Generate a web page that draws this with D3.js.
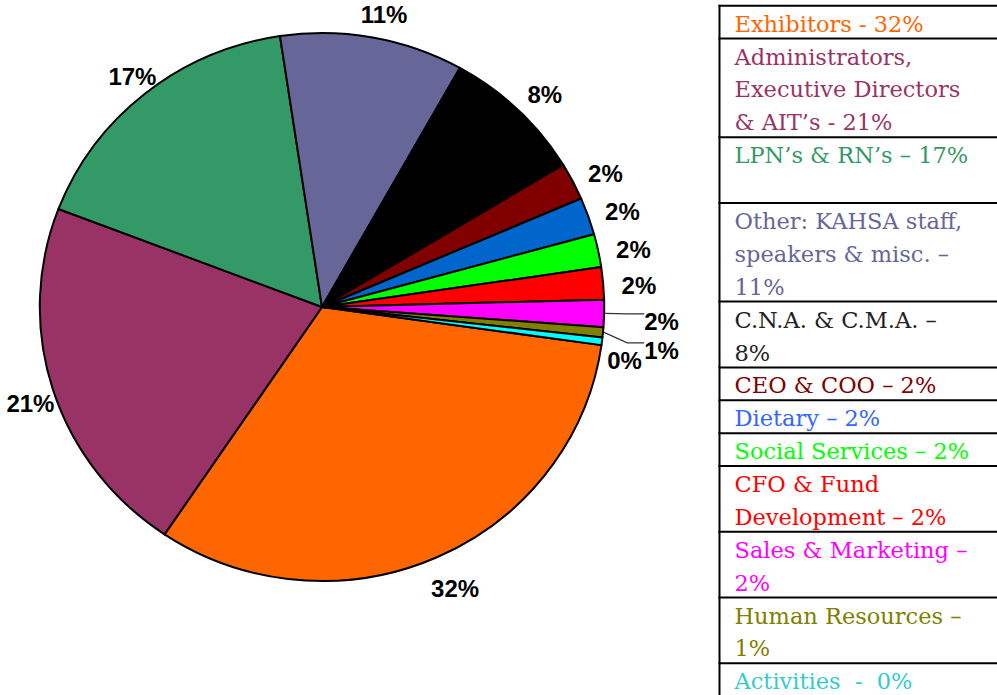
<!DOCTYPE html>
<html>
<head>
<meta charset="utf-8">
<script src="https://cdn.jsdelivr.net/npm/d3@7"></script>
<style>
  body { margin: 0; background: #fff; }
</style>
</head>
<body>
<div id="chart"></div>
<script>
// categories, in the order the slices run clockwise (Exhibitors first)
const categories = [
    "Exhibitors", "Administrators, Executive Directors & AIT's", "LPN's & RN's",
    "Other: KAHSA staff, speakers & misc.", "C.N.A. & C.M.A.", "CEO & COO",
    "Dietary", "Social Services", "CFO & Fund Development", "Sales & Marketing",
    "Human Resources", "Activities"
];

// share of attendees, percent
const shares = [32.2, 21.4, 16.8, 10.5, 8.2, 2.2, 2.2, 1.95, 1.9, 1.6, 0.6, 0.45];

const sliceColors = [
    "#FF6600", "#993366", "#339966", "#666699", "#000000", "#800000",
    "#0066CC", "#00FF00", "#FF0000", "#FF00FF", "#808000", "#00FFFF"
];

const legendColors = [
    "#FF6600", "#993366", "#339966", "#666699", "#222222", "#800000",
    "#3366FF", "#00FF00", "#FF0000", "#FF00FF", "#808000", "#33CCCC"
];

// legend rows as they wrap in the table
const legendLines = [
    ["Exhibitors - 32%"],
    ["Administrators,", "Executive Directors", "& AIT\u2019s - 21%"],
    ["LPN\u2019s & RN\u2019s \u2013 17%", ""],
    ["Other: KAHSA staff,", "speakers & misc. \u2013", "11%"],
    ["C.N.A. & C.M.A. \u2013", "8%"],
    ["CEO & COO \u2013 2%"],
    ["Dietary \u2013 2%"],
    ["Social Services \u2013 2%"],
    ["CFO & Fund", "Development \u2013 2%"],
    ["Sales & Marketing \u2013", "2%"],
    ["Human Resources \u2013", "1%"],
    ["Activities  -  0%"]
];

const W = 997, H = 695;
const cx = 322, cy = 307, r = 274, sx = 1.03;   // pie is slightly wider than tall
const startDeg = 98;

const svg = d3.select("#chart").append("svg")
    .attr("width", W).attr("height", H)
    .style("display", "block");

const data = categories.map((c, i) => ({ name: c, v: shares[i], i: i }));

const pie = d3.pie()
    .sort(null)
    .value(d => d.v)
    .startAngle(startDeg * Math.PI / 180)
    .endAngle(startDeg * Math.PI / 180 + 2 * Math.PI);

const arcs = pie(data);
const arc = d3.arc().innerRadius(0).outerRadius(r);

// slices
svg.append("g")
    .attr("transform", `translate(${cx},${cy}) scale(${sx},1)`)
    .selectAll("path")
    .data(arcs)
    .enter()
    .append("path")
    .attr("d", arc)
    .attr("fill", d => sliceColors[d.data.i])
    .attr("stroke", "#000")
    .attr("stroke-width", 2)
    .attr("stroke-linejoin", "round")
    .attr("vector-effect", "non-scaling-stroke");

// percent labels
const R = 303;
const shiftX = 6, shiftY = 5;   // excel sets its labels a little down-right
const polar = (a, rad) => [cx + rad * sx * Math.sin(a), cy - rad * Math.cos(a)];

let prevY = 0;
const labels = arcs.map(d => {
    const a = (d.startAngle + d.endAngle) / 2;
    const txt = Math.round(d.data.v) + "%";
    let o;
    if (d.data.v >= 1.8) {
        const p = polar(a, R);
        o = { x: p[0] + shiftX, y: p[1] + shiftY, anchor: "middle", txt: txt };
    } else if (d.data.v >= 0.5) {
        // crowded small slices: pushed out with a leader line
        const y = prevY + (prevY < cy ? 36 : 29);
        const x0 = cx + r * sx + 40;
        const s = polar(a, r + 1);
        o = { x: x0, y: y, anchor: "start", txt: txt,
              leader: [s, [x0 - 17, y - 8], [x0, y - 8]] };
    } else {
        o = { x: cx + r * sx + 3, y: prevY + 10, anchor: "start", txt: txt };
    }
    prevY = o.y;
    return o;
});

svg.append("g")
    .selectAll("polyline")
    .data(labels.filter(d => d.leader))
    .enter()
    .append("polyline")
    .attr("points", d => d.leader.map(p => p.join(",")).join(" "))
    .attr("fill", "none")
    .attr("stroke", "#333")
    .attr("stroke-width", 1.2);

svg.append("g")
    .selectAll("text")
    .data(labels)
    .enter()
    .append("text")
    .attr("x", d => d.x)
    .attr("y", d => d.y)
    .attr("dy", "0.36em")
    .attr("text-anchor", d => d.anchor)
    .attr("font-family", "Liberation Sans, Arial, sans-serif")
    .attr("font-weight", "bold")
    .attr("font-size", 24)
    .attr("fill", "#000")
    .text(d => d.txt);

// legend table
const tx = 719.5, ty = 5.7, lineH = 32.88;
const legend = svg.append("g");
let cum = 0;
const rows = legendLines.map((lines, i) => {
    const row = { i: i, lines: lines, top: ty + cum * lineH };
    cum += lines.length;
    return row;
});

legend.selectAll("line.hr")
    .data(rows.concat([{ top: ty + cum * lineH }]))
    .enter()
    .append("line")
    .attr("class", "hr")
    .attr("x1", tx - 1).attr("x2", W + 2)
    .attr("y1", d => d.top).attr("y2", d => d.top)
    .attr("stroke", "#000")
    .attr("stroke-width", 2);

legend.append("line")
    .attr("x1", tx).attr("x2", tx)
    .attr("y1", ty - 1).attr("y2", H + 2)
    .attr("stroke", "#000")
    .attr("stroke-width", 2);

const rowText = legend.selectAll("text")
    .data(rows)
    .enter()
    .append("text")
    .attr("font-family", "DejaVu Serif, serif")
    .attr("font-size", 22.5)
    .attr("fill", d => legendColors[d.i])
    .attr("xml:space", "preserve")
    .style("white-space", "pre");

rowText.selectAll("tspan")
    .data(d => d.lines.map((t, k) => ({ t: t, y: d.top + 26 + k * lineH })))
    .enter()
    .append("tspan")
    .attr("x", tx + 15)
    .attr("y", d => d.y)
    .text(d => d.t);
</script>
</body>
</html>
